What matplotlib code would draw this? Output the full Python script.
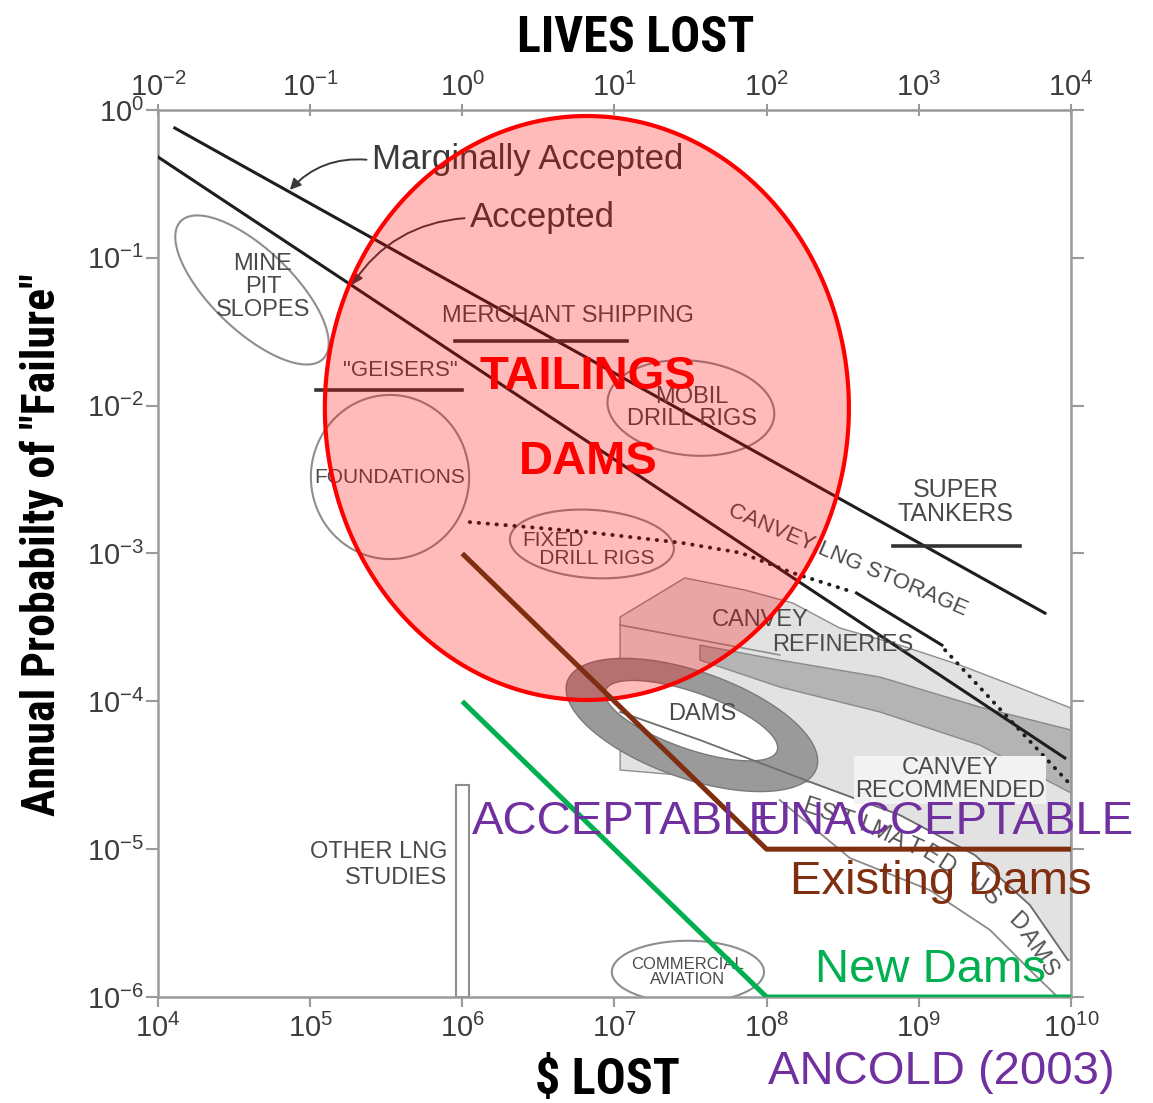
"""Risk chart (Baecher / Whitman F-N plot) with ANCOLD (2003) tailings dam overlay.

Writes ``out.png``.
"""

import numpy as np
import matplotlib
matplotlib.use("Agg")
import matplotlib.pyplot as plt
from matplotlib import font_manager
from matplotlib.ticker import FixedLocator, NullLocator

# ---------------------------------------------------------------------------
# Data  (x = $ lost, y = annual probability of "failure")
# ---------------------------------------------------------------------------
X_RANGE = [1e4, 1e10]
Y_RANGE = [1e-6, 1e0]
LIVES_RANGE = [1e-2, 1e4]

x_ticks = [1e4, 1e5, 1e6, 1e7, 1e8, 1e9, 1e10]
y_ticks = [1e-6, 1e-5, 1e-4, 1e-3, 1e-2, 1e-1, 1e0]
lives_ticks = [1e-2, 1e-1, 1e0, 1e1, 1e2, 1e3, 1e4]

marginal_x = [1.29e4, 6.75e9]
marginal_y = [0.755, 3.95e-4]
accepted_x = [1e4, 9.12e9]
accepted_y = [0.481, 4.14e-5]

# Canvey LNG storage line: dotted, solid, dotted
lng_dot1_x = [1.12e6, 6.40e6, 2.77e7, 6.78e7, 1.49e8, 3.69e8]
lng_dot1_y = [1.63e-3, 1.40e-3, 1.18e-3, 1.01e-3, 7.38e-4, 5.49e-4]
lng_solid_x = [3.9e8, 1.42e9]
lng_solid_y = [5.4e-4, 2.40e-4]
lng_dot2_x = [1.49e9, 9.55e9]
lng_dot2_y = [2.22e-4, 2.85e-5]

# horizontal bars: x_start, x_end, y
merchant_bar = [8.95e5, 1.21e7, 2.74e-2]
geisers_bar = [1.09e5, 1.0e6, 1.28e-2]
tankers_bar = [6.76e8, 4.62e9, 1.12e-3]

# "other LNG studies" bar: x_left, x_right, top
other_lng_bar = [9.1e5, 1.1e6, 2.7e-5]

# ellipses: centre x, centre y, semi-axis a / b (decades), angle (deg)
mine_pit = [4.15e4, 6.06e-2, 0.66, 0.27, -45]
foundations = [3.35e5, 3.29e-3, 0.52, 0.555, 0]
mobil_rigs = [3.18e7, 9.64e-3, 0.55, 0.32, -6]
fixed_rigs = [7.11e6, 1.16e-3, 0.54, 0.23, -4]
comm_aviation = [3.04e7, 1.48e-6, 0.50, 0.21, 0]
dams_outer = [3.23e7, 6.92e-5, 0.87, 0.36, -20]
dams_inner = [3.20e7, 7.40e-5, 0.60, 0.19, -20]
tailings_zone = [6.59e6, 9.64e-3, 1.722, 1.975, 0]

# light grey region (Canvey refineries / recommended)
light_x = [1.09e7, 2.90e7, 7.21e7, 1.49e8, 3.03e8, 7.52e8, 1.86e9, 4.62e9, 1e10,
           1e10, 9.55e9, 5.37e9, 2.34e9, 7.52e8, 1.93e8, 6.68e7, 2.69e7, 1.09e7]
light_y = [3.72e-4, 6.83e-4, 5.66e-4, 4.62e-4, 3.13e-4, 2.40e-4, 1.76e-4, 1.23e-4, 9.01e-5,
           1.78e-6, 1.78e-6, 4.19e-6, 9.12e-6, 1.70e-5, 2.85e-5, 2.94e-5, 3.17e-5, 3.43e-5]
refinery_edge_x = [1.09e7, 3.65e7, 1.22e8]
refinery_edge_y = [3.28e-4, 2.60e-4, 2.06e-4]

# medium grey band
band_x = [3.65e7, 1.22e8, 5.56e8, 2.52e9, 1e10, 1e10, 2.52e9, 5.56e8, 1.22e8, 3.65e7]
band_y = [2.40e-4, 1.90e-4, 1.46e-4, 9.15e-5, 6.40e-5, 2.40e-5, 5.06e-5, 8.47e-5, 1.25e-4, 1.90e-4]

# "estimated US dams" band edges and text path
us_dams_upper_x = [1.09e7, 3.65e7, 1.93e8, 7.52e8, 2.34e9, 5.37e9, 9.55e9]
us_dams_upper_y = [8.47e-5, 5.47e-5, 2.85e-5, 1.70e-5, 9.12e-6, 4.19e-6, 1.78e-6]
us_dams_lower_x = [1.22e8, 3.53e8, 1.18e9, 2.94e9, 5.80e9, 8.2e9]
us_dams_lower_y = [2.15e-5, 8.71e-6, 5.29e-6, 2.84e-6, 1.41e-6, 1e-6]
us_dams_text_x = [1.93e8, 4.78e8, 1.18e9, 2.52e9, 4.62e9, 7.06e9]
us_dams_text_y = [1.90e-5, 1.39e-5, 9.12e-6, 5.55e-6, 3.07e-6, 1.57e-6]

# ANCOLD (2003) limits
existing_x = [1e6, 1e8, 1e10]
existing_y = [1e-3, 1e-5, 1e-5]
new_x = [1e6, 1e8, 1e10]
new_y = [1e-4, 1e-6, 1e-6]

# ---------------------------------------------------------------------------
# Style
# ---------------------------------------------------------------------------
GREY_TXT = "#4a4a4a"
GREY_EDGE = "#8e8e8e"
LINE = "#1e1e1e"
RED = "#ff0000"
BROWN = "#7f2f10"
GREEN = "#00b050"
PURPLE = "#7030a0"

# heading font: a condensed face if one is installed, else Liberation Sans
_fonts = font_manager.fontManager.ttflist
_names = {f.name for f in _fonts}
HEAD = dict(family=["Liberation Sans", "DejaVu Sans"], fontsize=28, ylab=27, stretch="normal")
for cand in ("Liberation Sans Narrow", "Roboto Condensed", "Open Sans Condensed"):
    if cand in _names:
        HEAD = dict(family=[cand, "DejaVu Sans"], fontsize=36, ylab=33, stretch="normal")
        break
else:
    if any(f.name == "DejaVu Sans" and f.stretch == "condensed" for f in _fonts):
        HEAD = dict(family=["DejaVu Sans"], fontsize=34, ylab=30, stretch="condensed")

plt.rcParams["font.family"] = ["Liberation Sans", "DejaVu Sans"]


def ellipse_xy(cx, cy, a, b, angle, n=240):
    """Ellipse drawn in log-log space (a, b in decades)."""
    t = np.linspace(0, 2 * np.pi, n)
    th = np.deg2rad(angle)
    lx = np.log10(cx) + a * np.cos(t) * np.cos(th) - b * np.sin(t) * np.sin(th)
    ly = np.log10(cy) + a * np.cos(t) * np.sin(th) + b * np.sin(t) * np.cos(th)
    return 10 ** lx, 10 ** ly


def text_along(ax, text, xs, ys, **kw):
    """Place characters one by one along a polyline given in data units."""
    pts = ax.transData.transform(np.column_stack([xs, ys]))
    seg = np.hypot(*np.diff(pts, axis=0).T)
    s = np.concatenate([[0], np.cumsum(seg)])
    inv = ax.transData.inverted()
    for ch, si in zip(text, np.linspace(0, s[-1], len(text))):
        if ch == " ":
            continue
        i = min(np.searchsorted(s, si, side="right") - 1, len(seg) - 1)
        d = pts[i + 1] - pts[i]
        px = np.interp(si, s, pts[:, 0])
        py = np.interp(si, s, pts[:, 1])
        x, y = inv.transform((px, py))
        ax.text(x, y, ch, rotation=np.degrees(np.arctan2(d[1], d[0])),
                rotation_mode="anchor", ha="center", va="center", **kw)


fig = plt.figure(figsize=(11.53, 11.03), dpi=100)
ax = fig.add_axes([0.1370, 0.0961, 0.7918, 0.8042])
ax.set_xscale("log")
ax.set_yscale("log")
ax.set_xlim(X_RANGE)
ax.set_ylim(Y_RANGE)

# --- grey background regions ------------------------------------------------
ax.fill(light_x, light_y, facecolor="#e2e2e2", edgecolor=GREY_EDGE, lw=1.0, zorder=1)
ax.plot(refinery_edge_x, refinery_edge_y, color=GREY_EDGE, lw=1.2, zorder=1.2)
ax.fill(band_x, band_y, facecolor="#b4b4b4", edgecolor="#8a8a8a", lw=1.0, zorder=1.3)

ox, oy = ellipse_xy(*dams_outer)
ax.fill(ox, oy, facecolor="#9a9a9a", edgecolor="#7a7a7a", lw=1.0, zorder=1.5)
ix, iy = ellipse_xy(*dams_inner)
ax.fill(ix, iy, facecolor="white", edgecolor="#7a7a7a", lw=1.0, zorder=1.6)

ax.plot(us_dams_upper_x, us_dams_upper_y, color="#6e6e6e", lw=1.3, zorder=1.7)
ax.plot(us_dams_lower_x, us_dams_lower_y, color="#8a8a8a", lw=1.3, zorder=1.7)

for ell in (mine_pit, foundations, mobil_rigs, fixed_rigs, comm_aviation):
    ex, ey = ellipse_xy(*ell)
    ax.fill(ex, ey, facecolor="none", edgecolor=GREY_EDGE, lw=1.5, zorder=1.8)

ax.fill([other_lng_bar[0], other_lng_bar[1], other_lng_bar[1], other_lng_bar[0]],
        [Y_RANGE[0], Y_RANGE[0], other_lng_bar[2], other_lng_bar[2]],
        facecolor="white", edgecolor=GREY_EDGE, lw=1.5, zorder=1.8)

# --- criterion lines -------------------------------------------------------
ax.plot(marginal_x, marginal_y, color=LINE, lw=2.2, zorder=3)
ax.plot(accepted_x, accepted_y, color=LINE, lw=2.2, zorder=3)
dots = dict(color=LINE, lw=2.8, linestyle=(0, (0.1, 2.2)), dash_capstyle="round", zorder=3)
ax.plot(lng_dot1_x, lng_dot1_y, **dots)
ax.plot(lng_dot2_x, lng_dot2_y, **dots)
ax.plot(lng_solid_x, lng_solid_y, color=LINE, lw=2.2, zorder=3)
for x0, x1, yb in (merchant_bar, geisers_bar, tankers_bar):
    ax.plot([x0, x1], [yb, yb], color="#333333", lw=2.6, zorder=3)

# --- grey labels ------------------------------------------------------------
lab = dict(color=GREY_TXT, ha="center", va="center", zorder=3, linespacing=1.05)
ax.text(2.55e5, 0.459, "Marginally Accepted", fontsize=25, color="#3a3a3a",
        ha="left", va="center", zorder=3)
ax.text(1.12e6, 0.186, "Accepted", fontsize=25, color="#3a3a3a",
        ha="left", va="center", zorder=3)
arrow = dict(arrowstyle="-|>", color="#3a3a3a", lw=1.4, mutation_scale=16,
             shrinkA=2, shrinkB=0, connectionstyle="arc3,rad=0.25")
ax.annotate("", xy=(7.36e4, 0.288), xytext=(2.45e5, 0.459), arrowprops=arrow, zorder=3)
ax.annotate("", xy=(1.88e5, 6.55e-2), xytext=(1.08e6, 0.186), arrowprops=arrow, zorder=3)

ax.text(4.90e4, 6.35e-2, "MINE\nPIT\nSLOPES", fontsize=17, **lab)
ax.text(4.94e6, 4.04e-2, "MERCHANT SHIPPING", fontsize=17, **lab)
ax.text(3.89e5, 1.72e-2, '"GEISERS"', fontsize=16, **lab)
ax.text(3.35e5, 3.29e-3, "FOUNDATIONS", fontsize=15, **lab)
ax.text(3.23e7, 9.64e-3, "MOBIL\nDRILL RIGS", fontsize=17, **lab)
ax.text(2.47e6, 1.06e-3, "FIXED\n   DRILL RIGS", fontsize=15, color=GREY_TXT,
        ha="left", va="center", zorder=3, linespacing=0.95)
ax.text(1.75e9, 2.23e-3, "SUPER\nTANKERS", fontsize=18, **lab)
ax.text(3.42e8, 9.04e-4, "CANVEY LNG STORAGE", fontsize=16, rotation=-23,
        rotation_mode="anchor", **lab)
ax.text(9.04e7, 3.55e-4, "CANVEY", fontsize=17, **lab)
ax.text(3.18e8, 2.40e-4, "REFINERIES", fontsize=17, **lab)
ax.text(3.76e7, 8.2e-5, "DAMS", fontsize=17, **lab)
ax.text(1.60e9, 2.94e-5, "CANVEY\nRECOMMENDED", fontsize=17,
        bbox=dict(boxstyle="square,pad=0.05", facecolor="#f2f2f2", edgecolor="none"), **lab)
ax.text(7.93e5, 7.81e-6, "OTHER LNG\nSTUDIES", fontsize=17, color=GREY_TXT,
        ha="right", va="center", multialignment="right", zorder=3)
ax.text(3.04e7, 1.48e-6, "COMMERCIAL\nAVIATION", fontsize=12, **lab)
text_along(ax, "ESTIMATED US DAMS", us_dams_text_x, us_dams_text_y,
           fontsize=17, color="#555555", zorder=1.9)

# --- tailings dams zone ------------------------------------------------------
tx, ty = ellipse_xy(*tailings_zone, n=400)
ax.fill(tx, ty, facecolor=(1, 0, 0, 0.27), edgecolor=RED, lw=3.0, zorder=4)
ax.text(6.70e6, 1.56e-2, "TAILINGS", fontsize=34, fontweight="bold", color=RED,
        ha="center", va="center", zorder=6)
ax.text(6.70e6, 4.16e-3, "DAMS", fontsize=34, fontweight="bold", color=RED,
        ha="center", va="center", zorder=6)

# --- ANCOLD limits ------------------------------------------------------------
ax.plot(existing_x, existing_y, color=BROWN, lw=3.6, zorder=5, solid_capstyle="butt")
ax.plot(new_x, new_y, color=GREEN, lw=3.6, zorder=5, solid_capstyle="butt")
big = dict(fontsize=34, ha="left", va="center", zorder=6, clip_on=False)
ax.text(1.16e6, 1.53e-5, "ACCEPTABLE", color=PURPLE, **big)
ax.text(8.63e7, 1.53e-5, "UNACCEPTABLE", color=PURPLE, **big)
ax.text(1.42e8, 6.0e-6, "Existing Dams", color=BROWN, **big)
ax.text(2.08e8, 1.52e-6, "New Dams", color=GREEN, **big)
ax.text(1.02e8, 3.11e-7, "ANCOLD (2003)", color=PURPLE, **big)

# --- axes ---------------------------------------------------------------------
for sp in ax.spines.values():
    sp.set_color("#9a9a9a")
    sp.set_linewidth(1.8)
ax.xaxis.set_major_locator(FixedLocator(x_ticks))
ax.yaxis.set_major_locator(FixedLocator(y_ticks))
ax.xaxis.set_minor_locator(NullLocator())
ax.yaxis.set_minor_locator(NullLocator())
ax.tick_params(axis="x", top=False, direction="out", length=7, width=1.5,
               color="#9a9a9a", labelsize=21, labelcolor="#3c3c3c", pad=5)
ax.tick_params(axis="y", left=True, right=True, direction="out", length=9, width=1.5,
               color="#9a9a9a", labelsize=21, labelcolor="#3c3c3c", pad=1)

head_kw = dict(family=HEAD["family"], fontstretch=HEAD["stretch"], fontweight="bold",
               color="black", va="center")
ax.set_xlabel(r"\$ LOST", fontsize=HEAD["fontsize"], **head_kw)
ax.xaxis.set_label_coords(0.492, -0.0936)
ax.set_ylabel('Annual Probabilty of "Failure"', fontsize=HEAD["ylab"], **head_kw)
ax.yaxis.set_label_coords(-0.127, 0.51)

ax_top = ax.twiny()
ax_top.set_xscale("log")
ax_top.set_xlim(LIVES_RANGE)
ax_top.xaxis.set_major_locator(FixedLocator(lives_ticks))
ax_top.xaxis.set_minor_locator(NullLocator())
ax_top.tick_params(axis="x", direction="inout", length=8, width=1.5, color="#9a9a9a",
                   labelsize=21, labelcolor="#3c3c3c", pad=2)
for sp in ax_top.spines.values():
    sp.set_visible(False)
ax_top.set_xlabel("LIVES LOST", fontsize=HEAD["fontsize"], **head_kw)
ax_top.xaxis.set_label_coords(0.5236, 1.081)

fig.savefig("out.png", dpi=100)
